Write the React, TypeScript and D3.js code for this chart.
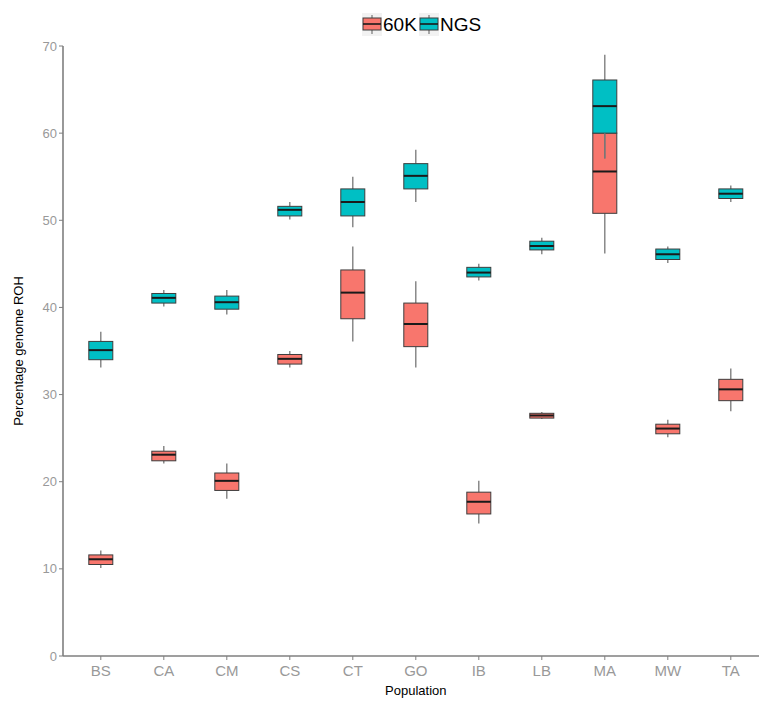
import React from "react";
import * as d3 from "d3";

const categories = ["BS", "CA", "CM", "CS", "CT", "GO", "IB", "LB", "MA", "MW", "TA"];
const seriesNames = ["60K", "NGS"];
const seriesColors = ["#F8766D", "#00BFC4"];

// 60K: lower whisker, Q1, median, Q3, upper whisker
const k60Low = [10.1, 22.1, 18.05, 33.1, 36.1, 33.1, 15.2, 27.2, 46.2, 25.1, 28.1];
const k60Q1 = [10.5, 22.4, 19.0, 33.5, 38.7, 35.5, 16.3, 27.3, 50.8, 25.5, 29.3];
const k60Med = [11.1, 23.1, 20.1, 34.1, 41.7, 38.1, 17.7, 27.6, 55.6, 26.1, 30.6];
const k60Q3 = [11.6, 23.5, 21.0, 34.6, 44.3, 40.5, 18.8, 27.85, 60.0, 26.6, 31.75];
const k60High = [12.1, 24.1, 22.1, 35.0, 47.0, 43.0, 20.1, 28.0, 64.0, 27.1, 33.0];

// NGS
const ngsLow = [33.1, 40.1, 39.2, 50.1, 49.2, 52.1, 43.1, 46.1, 57.1, 45.1, 52.1];
const ngsQ1 = [34.0, 40.5, 39.8, 50.5, 50.5, 53.6, 43.5, 46.6, 60.0, 45.5, 52.5];
const ngsMed = [35.1, 41.1, 40.6, 51.2, 52.1, 55.1, 44.0, 47.05, 63.1, 46.1, 53.05];
const ngsQ3 = [36.1, 41.6, 41.3, 51.6, 53.6, 56.5, 44.6, 47.6, 66.1, 46.7, 53.6];
const ngsHigh = [37.2, 42.0, 42.0, 52.1, 55.0, 58.1, 45.0, 48.0, 69.0, 47.0, 54.0];

const yTicks = [0, 10, 20, 30, 40, 50, 60, 70];

const W = 759;
const H = 701;
const panelLeft = 63;
const panelTop = 46;
const panelBottom = 656;
const step = 63;
const panelRight = panelLeft + step * (categories.length - 1 + 1.2);

const series = [
  { name: seriesNames[0], color: seriesColors[0], low: k60Low, q1: k60Q1, med: k60Med, q3: k60Q3, high: k60High },
  { name: seriesNames[1], color: seriesColors[1], low: ngsLow, q1: ngsQ1, med: ngsMed, q3: ngsQ3, high: ngsHigh },
];

export default function App() {
  const x = d3
    .scalePoint<string>()
    .domain(categories)
    .range([panelLeft + step * 0.6, panelRight - step * 0.6]);
  const y = d3.scaleLinear().domain([0, 70]).range([panelBottom, panelTop]);
  const boxW = 24;
  const axisColor = "#7f7f7f";
  const tickTextColor = "#999999";
  const whisker = "#777777";
  const font = "'Liberation Sans', Arial, sans-serif";

  return (
    <svg
      width={W}
      height={H}
      style={{ position: "absolute", left: 0, top: 0, background: "#fff" }}
      fontFamily={font}
    >
      <rect x={0} y={0} width={W} height={H} fill="#fff" />
      {series.map((s) => (
        <g key={s.name}>
          {categories.map((c, i) => {
            const cx = x(c)!;
            return (
              <g key={c}>
                <line x1={cx} x2={cx} y1={y(s.high[i])} y2={y(s.q3[i])} stroke={whisker} strokeWidth={1.3} />
                <line x1={cx} x2={cx} y1={y(s.q1[i])} y2={y(s.low[i])} stroke={whisker} strokeWidth={1.3} />
                <rect
                  x={cx - boxW / 2}
                  y={y(s.q3[i])}
                  width={boxW}
                  height={y(s.q1[i]) - y(s.q3[i])}
                  fill={s.color}
                  stroke="#3d3d3d"
                  strokeWidth={1}
                />
                <line
                  x1={cx - boxW / 2}
                  x2={cx + boxW / 2}
                  y1={y(s.med[i])}
                  y2={y(s.med[i])}
                  stroke="#1a1a1a"
                  strokeWidth={2}
                />
              </g>
            );
          })}
        </g>
      ))}
      {categories.map((c, i) => {
        const cx = x(c)!;
        if (ngsQ1[i] > k60Q3[i] + 0.01) return null;
        return (
          <line key={c} x1={cx} x2={cx} y1={y(ngsQ1[i])} y2={y(ngsLow[i])} stroke={whisker} strokeWidth={1.3} />
        );
      })}
      <line x1={panelLeft} x2={panelLeft} y1={panelTop} y2={panelBottom} stroke={axisColor} strokeWidth={1.6} />
      {yTicks.map((t) => (
        <g key={t}>
          <line x1={panelLeft - 4} x2={panelLeft} y1={y(t)} y2={y(t)} stroke={axisColor} strokeWidth={1} />
          <text x={panelLeft - 6} y={y(t)} dy="0.35em" textAnchor="end" fontSize={13} fill={tickTextColor}>
            {t}
          </text>
        </g>
      ))}
      <line x1={panelLeft} x2={panelRight} y1={panelBottom} y2={panelBottom} stroke={axisColor} strokeWidth={1.6} />
      {categories.map((c) => (
        <g key={c}>
          <line x1={x(c)!} x2={x(c)!} y1={panelBottom} y2={panelBottom + 4} stroke={axisColor} strokeWidth={1} />
          <text x={x(c)!} y={panelBottom + 15} dy="0.35em" textAnchor="middle" fontSize={15} fill={tickTextColor}>
            {c}
          </text>
        </g>
      ))}
      <text x={(panelLeft + panelRight) / 2} y={690} dy="0.35em" textAnchor="middle" fontSize={13} fill="#000">
        Population
      </text>
      <text
        transform={`translate(18, ${(panelTop + panelBottom) / 2}) rotate(-90)`}
        textAnchor="middle"
        dy="0.35em"
        fontSize={13}
        fill="#000"
      >
        Percentage genome ROH
      </text>
      {series.map((s, i) => {
        const kx = i === 0 ? 362 : 419;
        const tx = i === 0 ? 383 : 440;
        return (
          <g key={s.name}>
            <rect x={kx} y={13} width={20} height={23} fill="#f2f2f2" />
            <line x1={kx + 10} x2={kx + 10} y1={15} y2={34} stroke={whisker} strokeWidth={1.2} />
            <rect x={kx + 1} y={18} width={18} height={12} fill={s.color} stroke="#3d3d3d" strokeWidth={1} />
            <line x1={kx + 1} x2={kx + 19} y1={24} y2={24} stroke="#1a1a1a" strokeWidth={1.6} />
            <text x={tx} y={30.5} fontSize={19} fill="#000">
              {s.name}
            </text>
          </g>
        );
      })}
    </svg>
  );
}
